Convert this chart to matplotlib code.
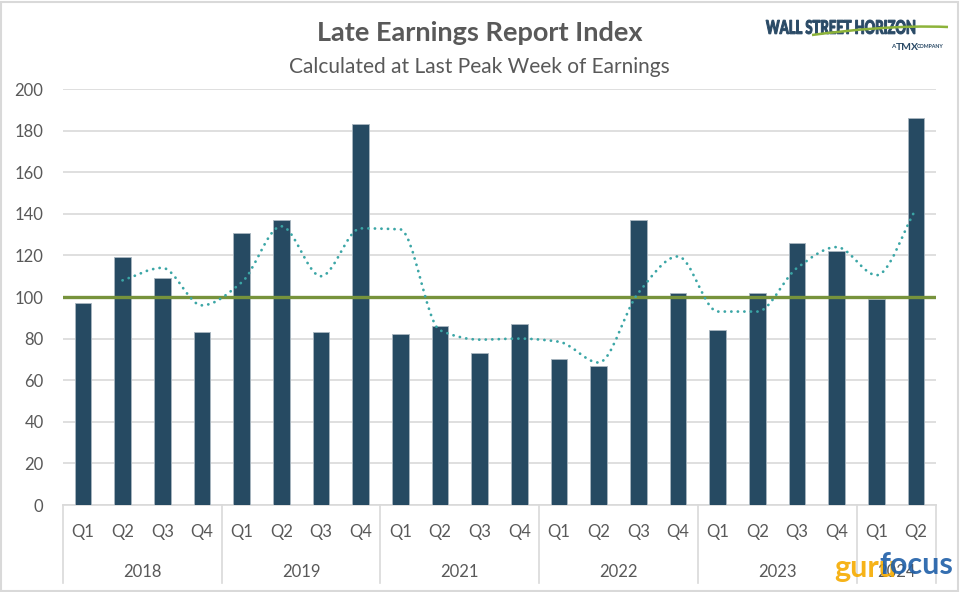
import numpy as np
import matplotlib
matplotlib.use("Agg")
import matplotlib.pyplot as plt
from matplotlib.path import Path
from matplotlib.patches import PathPatch, Rectangle
from matplotlib.textpath import TextPath
from matplotlib.font_manager import FontProperties
from matplotlib.transforms import Affine2D, blended_transform_factory

years = ["2018", "2019", "2021", "2022", "2023", "2024"]
quarters_per_year = [4, 4, 4, 4, 4, 2]
quarter_labels = ["Q1", "Q2", "Q3", "Q4"] * 5 + ["Q1", "Q2"]
late_index = [97, 119, 109, 83, 131, 137, 83, 183, 82, 86, 73, 87,
              70, 67, 137, 102, 84, 102, 126, 122, 99, 186]
# two-period moving average (starts at 2018 Q2)
moving_avg = [108, 114, 96, 107, 134, 110, 133, 132.5, 84, 79.5, 80,
              78.5, 68.5, 102, 119.5, 93, 93, 114, 124, 110.5, 142.5]
baseline = 100
yticks = list(range(0, 201, 20))

W, H = 960, 592
TXT = "#595959"
BAR = "#264A62"
GREEN = "#77933C"
TEAL = "#3BA6A6"
GRID = "#D9D9D9"
NAVY = "#2A4A66"

plt.rcParams["font.family"] = ["Lato", "DejaVu Sans"]

fig = plt.figure(figsize=(W / 100, H / 100), dpi=100)
pix = Affine2D().scale(1 / W, 1 / H) + fig.transFigure  # figure pixels, origin bottom-left
fig.patches.append(Rectangle((0.001, 0.001), 0.997, 0.996, transform=fig.transFigure,
                             fill=False, edgecolor=GRID, linewidth=1.5))

left, right, top, bottom = 63, 936, 89, 505
ax = fig.add_axes([left / W, (H - bottom) / H, (right - left) / W, (bottom - top) / H])
n = len(late_index)
x = np.arange(n)

ax.bar(x, late_index, width=0.42, color=BAR, edgecolor="#A9B6C0", linewidth=0.6, zorder=3)
ax.axhline(baseline, color=GREEN, linewidth=2.4, zorder=4)

# smoothed dotted line: monotone cubic drawn as a Bezier path
mx = x[1:].astype(float)
my = np.array(moving_avg, dtype=float)
slopes = np.diff(my) / np.diff(mx)
tang = np.zeros_like(my)
tang[0], tang[-1] = slopes[0], slopes[-1]
for k in range(1, len(my) - 1):
    a, b = slopes[k - 1], slopes[k]
    if a * b > 0:
        tang[k] = 2 * a * b / (a + b)
verts = [(mx[0], my[0])]
codes = [Path.MOVETO]
for k in range(len(my) - 1):
    h = mx[k + 1] - mx[k]
    verts += [(mx[k] + h / 3, my[k] + tang[k] * h / 3),
              (mx[k + 1] - h / 3, my[k + 1] - tang[k + 1] * h / 3),
              (mx[k + 1], my[k + 1])]
    codes += [Path.CURVE4] * 3
ax.add_patch(PathPatch(Path(verts, codes), fill=False, edgecolor=TEAL, linewidth=2.0,
                       linestyle=(0, (0.05, 2.3)), capstyle="round", zorder=5))

ax.set_xlim(-0.5, n - 0.5)
ax.set_ylim(0, 200)
ax.set_yticks(yticks)
ax.set_yticklabels([str(v) for v in yticks], fontsize=12, color=TXT)
ax.tick_params(axis="y", length=0, pad=14)
ax.set_xticks([])
ax.grid(axis="y", color=GRID, linewidth=1.2, zorder=0)
for s in ["top", "right", "left"]:
    ax.spines[s].set_visible(False)
ax.spines["bottom"].set_color(GRID)
ax.spines["bottom"].set_linewidth(1.2)

# two-level category axis
px = 1 / (bottom - top)
tr = blended_transform_factory(ax.transData, ax.transAxes)
for i, q in enumerate(quarter_labels):
    ax.text(i, -27 * px, q, transform=tr, ha="center", va="center", fontsize=12, color=TXT)
edges = np.concatenate([[0], np.cumsum(quarters_per_year)]) - 0.5
for e in edges:
    ax.plot([e, e], [0, -78 * px], transform=tr, color=GRID, linewidth=1.2, clip_on=False)
for yr, a, b in zip(years, edges[:-1], edges[1:]):
    ax.text((a + b) / 2, -67 * px, yr, transform=tr, ha="center", va="center",
            fontsize=12, color=TXT)

fig.text(480 / W, 1 - 33 / H, "Late Earnings Report Index", ha="center", va="center",
         fontsize=19.5, fontweight="bold", color=TXT)
fig.text(479 / W, 1 - 67 / H, "Calculated at Last Peak Week of Earnings", ha="center",
         va="center", fontsize=15, color=TXT)

# logo: condensed bold wordmark with a green swoosh
logo = TextPath((0, 0), "WALL STREET HORIZON", size=17,
                prop=FontProperties(family="Lato", weight="black"))
bb = logo.get_extents()
logo_tr = (Affine2D().translate(-bb.x0, -bb.y0)
           .scale(149 / bb.width, 14 / bb.height).translate(766, H - 34))
fig.patches.append(PathPatch(logo, transform=logo_tr + pix, facecolor=NAVY,
                             edgecolor=NAVY, linewidth=0.7))
swoosh = Path([(812, H - 35), (850, H - 30), (900, H - 25), (948, H - 27)],
              [Path.MOVETO, Path.CURVE4, Path.CURVE4, Path.CURVE4])
fig.patches.append(PathPatch(swoosh, transform=pix, fill=False,
                             edgecolor="#8DB33A", linewidth=1.8))
fig.text(893 / W, 1 - 47 / H, "A", ha="center", va="center", fontsize=4.5,
         fontweight="bold", color=NAVY)
fig.text(907 / W, 1 - 47 / H, "TMX", ha="center", va="center", fontsize=7.5,
         fontweight="bold", color=NAVY)
fig.text(930 / W, 1 - 47 / H, "COMPANY", ha="center", va="center", fontsize=3.8,
         fontweight="bold", color=NAVY)

# watermark
fig.text(834 / W, 1 - 568 / H, "guru", ha="left", va="center", fontsize=22,
         fontweight="bold", color="#F5AB00", alpha=0.9)
fig.text(879 / W, 1 - 565 / H, "focus", ha="left", va="center", fontsize=22,
         fontweight="bold", color="#1F5FA8", alpha=0.9)

fig.savefig("out.png", dpi=100)
